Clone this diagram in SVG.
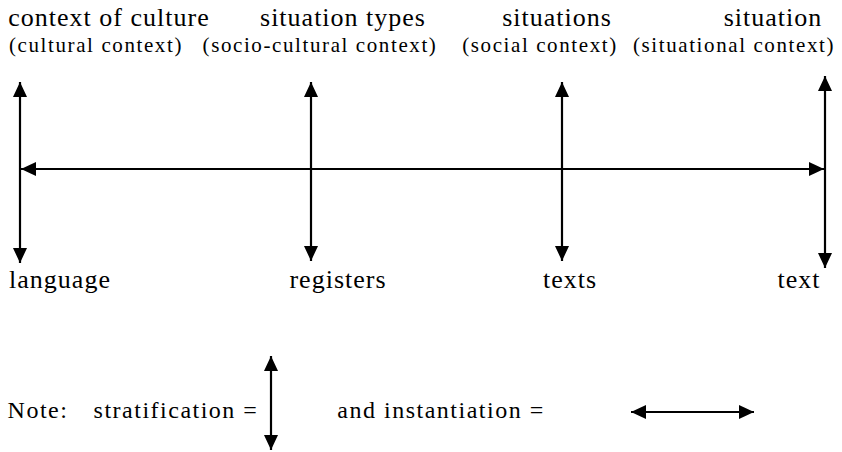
<svg xmlns="http://www.w3.org/2000/svg" width="842" height="452" viewBox="0 0 842 452">
<style>
.ln{stroke:#000;stroke-width:2.2;fill:none}
</style>
<defs>
<marker id="ah" markerUnits="userSpaceOnUse" markerWidth="16" markerHeight="16" viewBox="0 0 16 16" refX="15" refY="8" orient="auto-start-reverse">
<path d="M0,1 L15,8 L0,15 Z" fill="#000"/>
</marker>
</defs>
<g id="labels-top" fill="#000" text-anchor="middle">
<text style="font-family:'Liberation Serif',serif;font-size:26px;letter-spacing:1px" x="109" y="26">context of culture</text>
<text style="font-family:'Liberation Serif',serif;font-size:26px;letter-spacing:1px" x="343" y="26">situation types</text>
<text style="font-family:'Liberation Serif',serif;font-size:26px;letter-spacing:1px" x="557" y="26">situations</text>
<text style="font-family:'Liberation Serif',serif;font-size:26px;letter-spacing:1px" x="773" y="26">situation</text>
<text style="font-family:'Liberation Serif',serif;font-size:21px;letter-spacing:1.6px" x="96" y="52">(cultural context)</text>
<text style="font-family:'Liberation Serif',serif;font-size:21px;letter-spacing:1.6px" x="320" y="52">(socio-cultural context)</text>
<text style="font-family:'Liberation Serif',serif;font-size:21px;letter-spacing:1.6px" x="540" y="52">(social context)</text>
<text style="font-family:'Liberation Serif',serif;font-size:21px;letter-spacing:1.6px" x="734" y="52">(situational context)</text>
</g>
<g id="labels-bottom" fill="#000" text-anchor="middle">
<text style="font-family:'Liberation Serif',serif;font-size:26px;letter-spacing:1px" x="60" y="288">language</text>
<text style="font-family:'Liberation Serif',serif;font-size:26px;letter-spacing:1px" x="338" y="288">registers</text>
<text style="font-family:'Liberation Serif',serif;font-size:26px;letter-spacing:1px" x="570" y="288">texts</text>
<text style="font-family:'Liberation Serif',serif;font-size:26px;letter-spacing:1px" x="799" y="288">text</text>
</g>
<g id="connectors">
<line class="ln" x1="20" y1="82" x2="20" y2="263" marker-start="url(#ah)" marker-end="url(#ah)"/>
<line class="ln" x1="311" y1="82" x2="311" y2="261" marker-start="url(#ah)" marker-end="url(#ah)"/>
<line class="ln" x1="562" y1="82" x2="562" y2="261" marker-start="url(#ah)" marker-end="url(#ah)"/>
<line class="ln" x1="825" y1="76" x2="825" y2="268" marker-start="url(#ah)" marker-end="url(#ah)"/>
<line class="ln" x1="21" y1="169" x2="824" y2="169" marker-start="url(#ah)" marker-end="url(#ah)"/>
</g>
<g id="note" fill="#000" text-anchor="middle">
<text style="font-family:'Liberation Serif',serif;font-size:24px;letter-spacing:1.5px" x="38" y="418">Note:</text>
<text style="font-family:'Liberation Serif',serif;font-size:24px;letter-spacing:1.5px" x="176" y="418">stratification =</text>
<line class="ln" x1="271" y1="356" x2="271" y2="450" marker-start="url(#ah)" marker-end="url(#ah)"/>
<text style="font-family:'Liberation Serif',serif;font-size:24px;letter-spacing:1.5px" x="441" y="418">and instantiation =</text>
<line class="ln" x1="631" y1="412" x2="754" y2="412" marker-start="url(#ah)" marker-end="url(#ah)"/>
</g>
</svg>
